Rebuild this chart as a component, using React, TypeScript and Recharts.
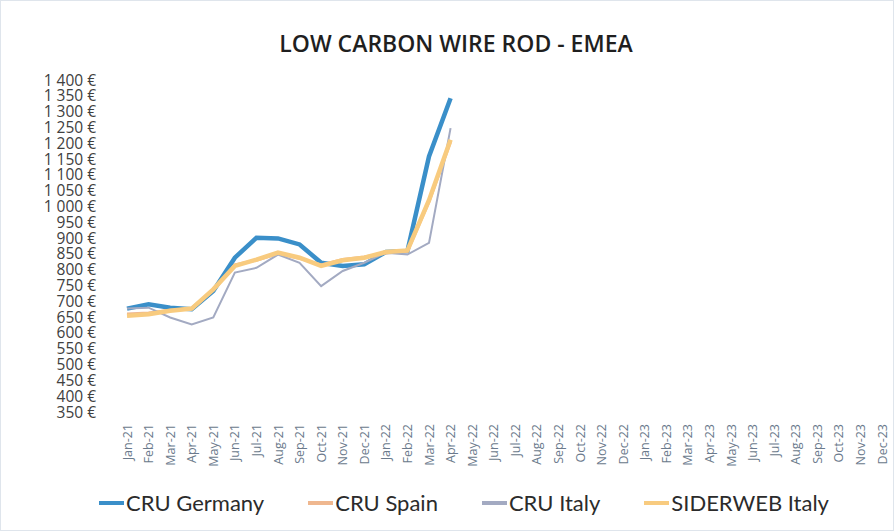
import { LineChart, Line, XAxis, YAxis, Legend } from "recharts";

// monthly price series, €/t
const months = [
  "Jan-21", "Feb-21", "Mar-21", "Apr-21", "May-21", "Jun-21", "Jul-21", "Aug-21", "Sep-21", "Oct-21", "Nov-21", "Dec-21",
  "Jan-22", "Feb-22", "Mar-22", "Apr-22", "May-22", "Jun-22", "Jul-22", "Aug-22", "Sep-22", "Oct-22", "Nov-22", "Dec-22",
  "Jan-23", "Feb-23", "Mar-23", "Apr-23", "May-23", "Jun-23", "Jul-23", "Aug-23", "Sep-23", "Oct-23", "Nov-23", "Dec-23",
];
const cruGermany = [677, 691, 680, 675, 733, 838, 901, 899, 880, 822, 812, 817, 856, 859, 1158, 1342];
const cruSpain = [660, 663, 672, 677, 735, 815, 830, 851, 836, 815, 832, 840, 853, 858, 1015, 1205];
const cruItaly = [677, 680, 649, 627, 649, 791, 806, 848, 822, 748, 796, 822, 854, 848, 885, 1248];
const siderwebItaly = [654, 659, 670, 677, 738, 812, 832, 854, 838, 812, 830, 838, 856, 861, 1020, 1211];
const yTicks = [350, 400, 450, 500, 550, 600, 650, 700, 750, 800, 850, 900, 950, 1000, 1050, 1100, 1150, 1200, 1250, 1300, 1350, 1400];

const series = [
  { key: "germany", name: "CRU Germany", color: "#3a8fc9", width: 4.5 },
  { key: "spain", name: "CRU Spain", color: "#efb78f", width: 3 },
  { key: "italy", name: "CRU Italy", color: "#a3aac2", width: 2 },
  { key: "siderweb", name: "SIDERWEB Italy", color: "#f8cb7f", width: 4.5 },
];

const data = months.map((m, i) => ({
  month: m,
  germany: cruGermany[i] ?? null,
  spain: cruSpain[i] ?? null,
  italy: cruItaly[i] ?? null,
  siderweb: siderwebItaly[i] ?? null,
}));

const euro = (v: number) =>
  v >= 1000 ? `${Math.floor(v / 1000)} ${String(v % 1000).padStart(3, "0")} €` : `${v} €`;

// rotated month label, centred on the tick
function MonthTick(props: any) {
  const { x, y, payload } = props;
  return (
    <text
      x={x}
      y={y + 4}
      transform={`rotate(-90, ${x}, ${y + 4})`}
      textAnchor="end"
      dominantBaseline="central"
      fontSize={12.5}
      fill="#6b7a8c"
      fontFamily="Open Sans, sans-serif"
    >
      {payload.value}
    </text>
  );
}

function LegendBox() {
  return (
    <div
      style={{
        display: "flex",
        justifyContent: "center",
        gap: 44,
        height: 30,
        lineHeight: "30px",
        fontFamily: "Lato, sans-serif",
        fontSize: 22,
        color: "#2b2b2b",
        paddingLeft: 34,
      }}
    >
      {series.map((s) => (
        <span key={s.key} style={{ display: "flex", alignItems: "center" }}>
          <span style={{ display: "inline-block", width: 25, height: 4, background: s.color, marginRight: 2 }} />
          {s.name}
        </span>
      ))}
    </div>
  );
}

export default function App() {
  return (
    <div style={{ position: "absolute", left: 0, top: 0, width: 894, height: 531, background: "#fff", boxSizing: "border-box", border: "1px solid #dfe5ec" }}>
      <div
        style={{
          position: "absolute",
          top: 26,
          left: 0,
          width: 910,
          textAlign: "center",
          fontFamily: "Open Sans, sans-serif",
          fontWeight: 600,
          fontSize: 23,
          color: "#1f1f1f",
        }}
      >
        LOW CARBON WIRE ROD - EMEA
      </div>
      <LineChart width={892} height={529} data={data} margin={{ top: 79, right: 0, bottom: 12, left: 0 }}>
        <XAxis
          dataKey="month"
          interval={0}
          height={76}
          padding={{ left: 11, right: 11 }}
          tickLine={false}
          axisLine={false}
          tick={<MonthTick />}
        />
        <YAxis
          domain={[350, 1400]}
          ticks={yTicks}
          interval={0}
          width={115}
          tickLine={false}
          axisLine={false}
          tickMargin={14}
          tickFormatter={euro}
          tick={{ fontSize: 15.5, fill: "#404040", fontFamily: "Open Sans, sans-serif" }}
        />
        <Legend verticalAlign="bottom" content={() => <LegendBox />} />
        {series.map((s) => (
          <Line
            key={s.key}
            type="linear"
            dataKey={s.key}
            name={s.name}
            stroke={s.color}
            strokeWidth={s.width}
            dot={false}
            connectNulls={false}
            isAnimationActive={false}
          />
        ))}
      </LineChart>
    </div>
  );
}
